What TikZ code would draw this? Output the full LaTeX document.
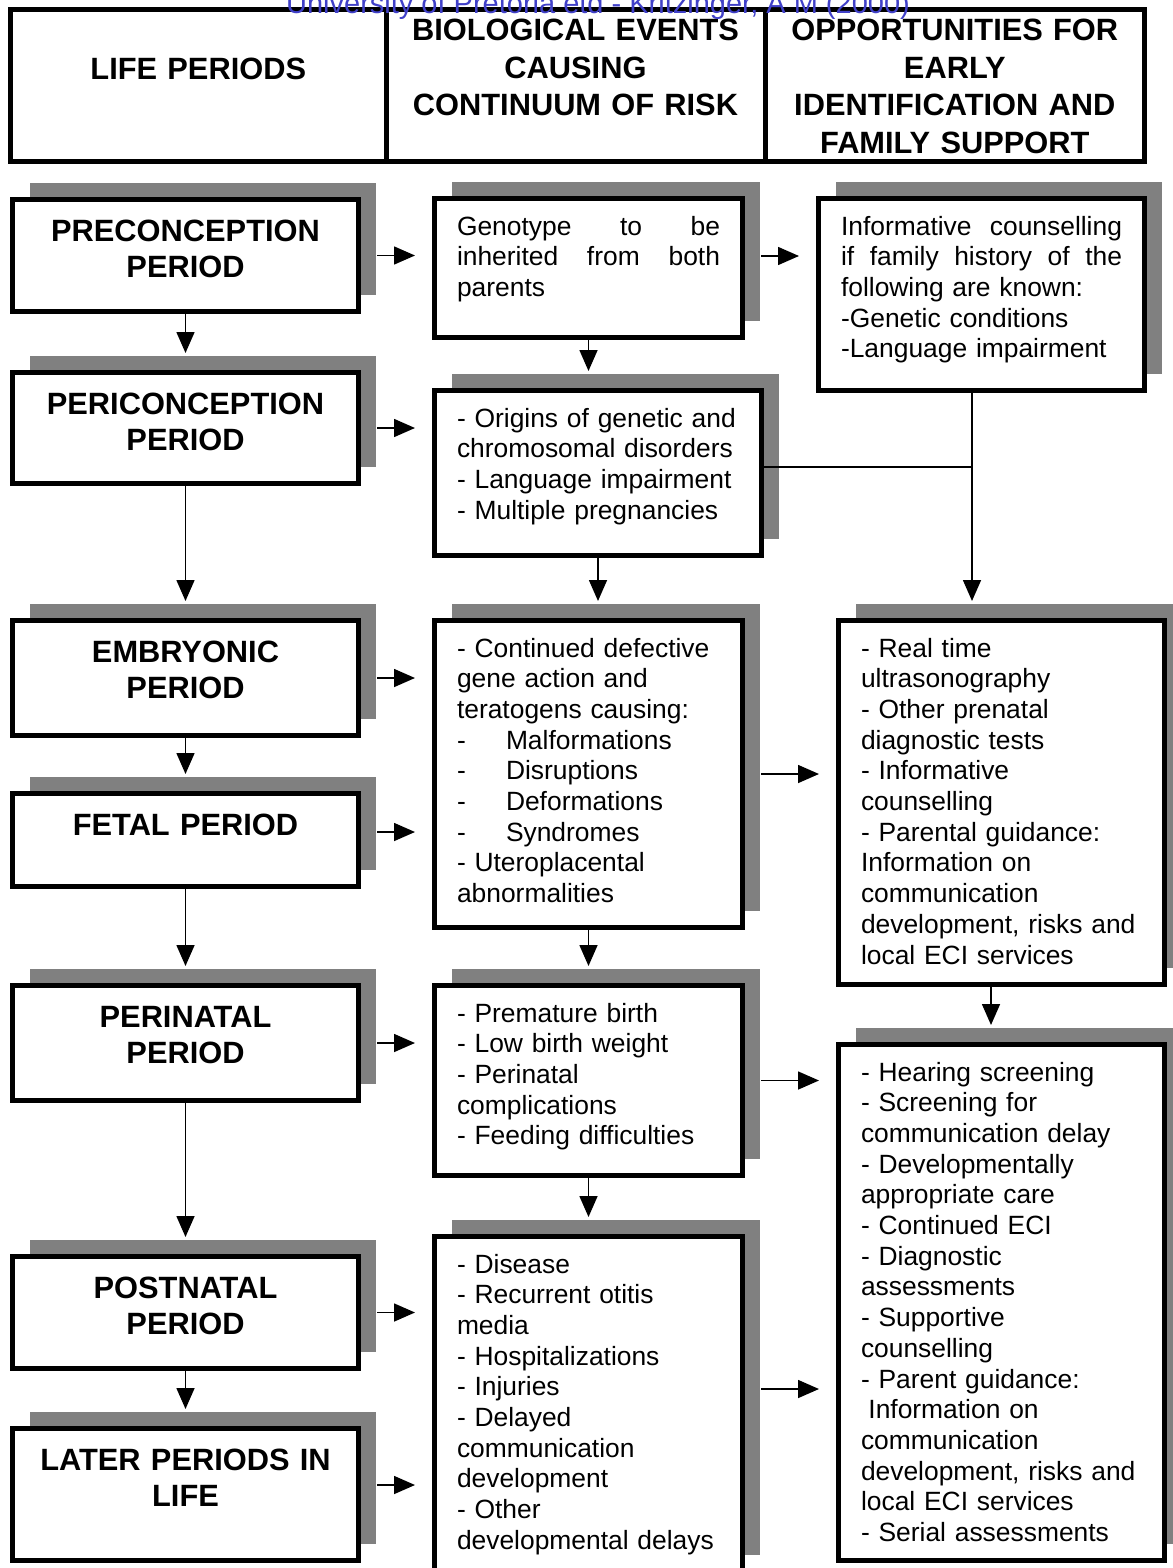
\documentclass[tikz,border=0pt]{standalone}
\usepackage{fontspec}
\setmainfont{Liberation Sans}
\usetikzlibrary{arrows.meta,shadows}

\definecolor{markblue}{RGB}{64,64,200}
\newcommand{\bodyfont}{\fontsize{13.2pt}{15.35pt}\selectfont}
\newcommand{\perfont}{\bfseries\fontsize{15.4pt}{18.4pt}\selectfont}
\newcommand{\headfont}{\bfseries\fontsize{15.4pt}{18.75pt}\selectfont}
\newcommand{\ditem}[1]{\makebox[24.5pt][l]{-}#1}

\begin{document}
\begin{tikzpicture}
  [x=0.5pt,y=-0.5pt,
   boxshadow/.style={drop shadow={shadow xshift=8.5pt,shadow yshift=8.5pt,fill=black!50,opacity=1}},
   hdbox/.style={draw,line width=2.5pt,anchor=north west,inner ysep=0pt,inner xsep=4pt,align=center,font=\headfont},
   perbox/.style={draw,line width=2.5pt,fill=white,boxshadow,anchor=north west,inner ysep=0pt,inner xsep=4pt,
     text width=165pt,align=center,text height=20.75pt,font=\perfont},
   evbox/.style={draw,line width=2.5pt,fill=white,boxshadow,anchor=north west,inner ysep=0pt,inner xsep=11.25pt,
     text width=131.5pt,align=left,text height=18.25pt,font=\bodyfont},
   arr/.style={-{Triangle[length=10.5pt,width=9pt]},line width=0.8pt,shorten >=8.5pt},
   harr/.style={arr,shorten <=8pt}]
  \useasboundingbox (0,0) rectangle (1172,1568);

  \node[hdbox,text width=179.75pt,text height=35.25pt,text depth=40.75pt] (lp) at (8,7) {LIFE PERIODS};
  \node[hdbox,text width=181.5pt,text height=15.75pt,text depth=60.25pt] (be) at (383.5,7)
    {BIOLOGICAL EVENTS\\CAUSING\\CONTINUUM OF RISK};
  \node[hdbox,text width=181.75pt,text height=15.75pt,text depth=60.25pt] (op) at (762.5,7)
    {OPPORTUNITIES FOR\\EARLY\\IDENTIFICATION AND\\FAMILY SUPPORT};

  \node[perbox,text depth=35.25pt] (pre) at (10,197) {PRECONCEPTION\\PERIOD};
  \node[perbox,text depth=34.75pt] (peri) at (10,370) {PERICONCEPTION\\PERIOD};
  \node[perbox,text depth=36.75pt] (emb) at (10,618) {EMBRYONIC\\PERIOD};
  \node[perbox,text depth=25.75pt] (fet) at (10,791) {FETAL PERIOD};
  \node[perbox,text depth=36.75pt] (perin) at (10,983) {PERINATAL\\PERIOD};
  \node[perbox,text depth=35.25pt] (post) at (10,1254) {POSTNATAL\\PERIOD};
  \node[perbox,text depth=45.25pt] (later) at (10,1426) {LATER PERIODS IN\\LIFE};

  \node[evbox,text depth=51.25pt] (geno) at (432,196)
    {Genotype \hfill to \hfill be\\ inherited \hfill from \hfill both\\ parents};
  \node[evbox,text width=141pt,text depth=64.25pt] (orig) at (432,388)
    {- Origins of genetic and\\ chromosomal disorders\\ - Language impairment\\ - Multiple pregnancies};
  \node[evbox,text depth=135.25pt] (cont) at (432,618)
    {- Continued defective\\ gene action and\\ teratogens causing:\\ \ditem{Malformations}\\ \ditem{Disruptions}\\
     \ditem{Deformations}\\ \ditem{Syndromes}\\ - Uteroplacental\\ abnormalities};
  \node[evbox,text depth=76.75pt] (prem) at (432,983)
    {- Premature birth\\ - Low birth weight\\ - Perinatal\\ complications\\ - Feeding difficulties};
  \node[evbox,text depth=149.25pt] (dis) at (432,1234)
    {- Disease\\ - Recurrent otitis\\ media\\ - Hospitalizations\\ - Injuries\\ - Delayed\\ communication\\
     development\\ - Other\\ developmental delays};

  \node[evbox,text width=140.5pt,text depth=77.75pt] (info) at (816,196)
    {Informative \hfill counselling\\ if \hfill family \hfill history \hfill of \hfill the\\ following are known:\\
     -Genetic conditions\\ -Language impairment};
  \node[evbox,text width=140.5pt,text depth=163.75pt] (real) at (836,618)
    {- Real time\\ ultrasonography\\ - Other prenatal\\ diagnostic tests\\ - Informative\\ counselling\\
     - Parental guidance:\\ Information on\\ communication\\ development, risks and\\ local ECI services};
  \node[evbox,text width=140.5pt,text depth=239.75pt] (hear) at (836,1042)
    {- Hearing screening\\ - Screening for\\ communication delay\\ - Developmentally\\ appropriate care\\
     - Continued ECI\\ - Diagnostic\\ assessments\\ - Supportive\\ counselling\\ - Parent guidance:\\
     \hspace*{3.7pt}Information on\\ communication\\ development, risks and\\ local ECI services\\ - Serial assessments};

  \foreach \from/\to in {pre/peri,peri/emb,emb/fet,fet/perin,perin/post,post/later,geno/orig,orig/cont,cont/prem,prem/dis}
    \draw[arr] (\from.south) -- (\from.south |- \to.north);
  \foreach \from/\to in {pre/geno,peri/orig,emb/cont,perin/prem,post/dis,cont/real,prem/hear}
    \draw[harr] (\from.east) -- (\from.east -| \to.west);

  \coordinate (fetout) at ([yshift=4pt]fet.east);
  \coordinate (lateout) at ([yshift=4.75pt]later.east);
  \coordinate (genout) at ([yshift=6pt]geno.east);
  \coordinate (disout) at ([yshift=7.5pt]dis.east);
  \coordinate (realout) at ([xshift=-5.25pt]real.south);
  \coordinate (mrg) at (972,467);
  \foreach \from/\to in {fetout/cont,lateout/dis,genout/info,disout/hear}
    \draw[harr] (\from) -- (\from -| \to.west);
  \draw[line width=0.8pt] (orig.east |- mrg) -- (mrg);
  \draw[arr] (info.south -| mrg) -- (mrg) -- (mrg |- real.north);
  \draw[arr] (realout) -- (realout |- hear.north);

  \node[font=\fontsize{14.5pt}{17pt}\selectfont,text=markblue,anchor=base] (wm) at (598,14)
    {University of Pretoria etd - Kritzinger, A M (2000)};
\end{tikzpicture}
\end{document}
